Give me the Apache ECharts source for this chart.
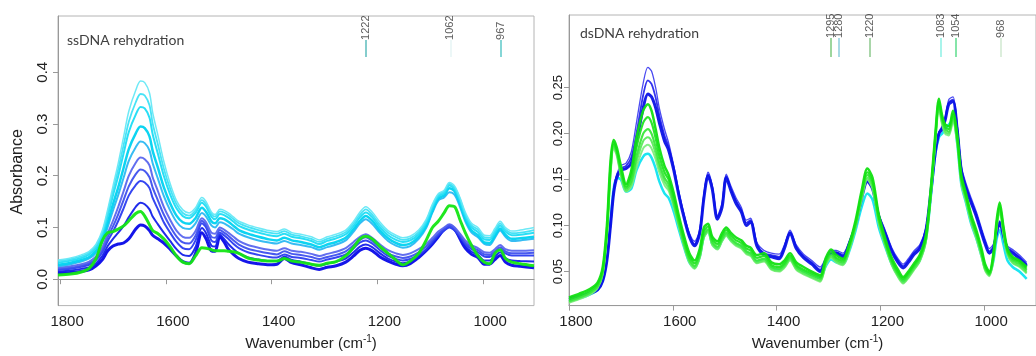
<!DOCTYPE html>
<html><head><meta charset="utf-8">
<script src="https://cdn.jsdelivr.net/npm/echarts@6/dist/echarts.min.js"></script>
<style>html,body{margin:0;padding:0;background:#fff;}#c{width:1036px;height:356px;}</style>
</head><body><div id="c"></div>
<script>
// ---------- Left panel: ssDNA rehydration ----------
const L_WN = [1804,1780,1760,1745,1732,1720,1710,1700,1690,1680,1670,1657,1648,1640,1631,1625,1615,1604,1592,1580,1568,1556,1544,1532,1524,1514,1507,1498,1490,1482,1472,1462,1445,1425,1405,1390,1376,1362,1345,1325,1310,1295,1278,1260,1245,1233,1222,1210,1195,1180,1165,1152,1138,1122,1108,1096,1085,1074,1064,1054,1044,1034,1022,1010,998,988,978,968,958,946,930,904];
const L_CYAN1 = [.037,.041,.047,.054,.068,.095,.135,.18,.225,.275,.325,.365,.383,.38,.36,.322,.278,.228,.185,.152,.134,.128,.138,.158,.15,.13,.125,.135,.133,.128,.12,.112,.105,.099,.094,.092,.097,.09,.087,.082,.076,.082,.087,.095,.112,.13,.14,.13,.11,.094,.085,.08,.083,.095,.115,.145,.165,.172,.187,.18,.158,.13,.108,.1,.085,.084,.098,.112,.1,.093,.095,.1];
const L_CYAN15 = [.035,.039,.044,.051,.065,.091,.129,.171,.213,.259,.305,.342,.358,.355,.336,.301,.26,.214,.175,.145,.128,.123,.133,.153,.145,.126,.121,.131,.129,.124,.116,.108,.101,.095,.09,.088,.093,.086,.083,.078,.072,.078,.083,.091,.108,.125,.135,.125,.105,.09,.081,.076,.079,.091,.112,.142,.163,.169,.184,.177,.155,.126,.104,.096,.081,.08,.094,.108,.096,.089,.09,.095];
const L_CYAN2 = [.032,.036,.041,.048,.061,.086,.122,.162,.2,.243,.285,.318,.333,.33,.312,.28,.242,.2,.164,.137,.122,.118,.128,.148,.14,.121,.116,.126,.124,.119,.111,.103,.096,.09,.085,.083,.088,.082,.079,.074,.068,.074,.079,.087,.103,.12,.129,.12,.1,.085,.076,.072,.075,.087,.108,.138,.16,.166,.181,.174,.151,.122,.1,.091,.077,.076,.09,.104,.092,.085,.086,.09];
const L_CYAN3 = [.028,.032,.037,.043,.055,.078,.11,.145,.178,.215,.252,.282,.295,.292,.276,.248,.215,.178,.147,.123,.11,.107,.118,.138,.13,.112,.108,.118,.116,.111,.103,.095,.088,.082,.077,.075,.08,.075,.072,.067,.062,.067,.072,.08,.097,.113,.122,.113,.094,.079,.07,.066,.069,.082,.103,.133,.156,.162,.176,.17,.146,.117,.094,.085,.071,.07,.084,.098,.086,.078,.079,.082];
const L_AZURE = [.025,.029,.034,.04,.051,.072,.101,.133,.163,.196,.229,.255,.266,.263,.249,.224,.194,.161,.133,.111,.099,.097,.108,.128,.121,.104,.1,.11,.108,.103,.096,.088,.081,.075,.071,.069,.074,.069,.066,.062,.057,.062,.067,.075,.092,.108,.116,.107,.089,.074,.065,.061,.064,.078,.099,.129,.152,.158,.168,.163,.14,.112,.09,.081,.068,.066,.08,.094,.082,.074,.075,.078];
const L_VIOLET = [.022,.025,.029,.034,.044,.062,.088,.113,.14,.17,.2,.225,.235,.232,.22,.197,.17,.14,.115,.094,.082,.08,.093,.118,.11,.09,.088,.1,.096,.09,.082,.074,.066,.061,.057,.055,.06,.055,.053,.049,.045,.049,.053,.06,.072,.082,.087,.08,.067,.056,.05,.047,.05,.058,.068,.08,.092,.1,.106,.1,.088,.075,.066,.06,.052,.051,.058,.066,.058,.055,.055,.056];
const L_BLUE15 = [.02,.022,.026,.031,.04,.057,.081,.102,.126,.153,.18,.203,.212,.209,.197,.177,.152,.125,.102,.083,.071,.069,.084,.113,.105,.082,.08,.095,.09,.084,.075,.067,.059,.054,.05,.048,.054,.049,.047,.043,.039,.043,.047,.054,.066,.076,.081,.074,.061,.05,.044,.041,.044,.052,.063,.076,.088,.097,.103,.097,.085,.071,.062,.056,.048,.047,.054,.062,.054,.05,.05,.051];
const L_BLUE1 = [.018,.02,.024,.028,.037,.052,.074,.092,.113,.137,.162,.182,.19,.187,.176,.157,.135,.11,.09,.072,.06,.058,.075,.108,.1,.075,.072,.09,.085,.078,.068,.06,.052,.047,.043,.042,.048,.043,.041,.037,.034,.038,.042,.048,.06,.071,.075,.069,.056,.045,.039,.036,.039,.047,.058,.072,.085,.094,.1,.094,.082,.068,.058,.052,.044,.043,.05,.058,.05,.046,.046,.046];
const L_BLUE17 = [.015,.017,.02,.023,.031,.045,.064,.078,.09,.103,.12,.14,.148,.145,.135,.121,.106,.09,.074,.058,.047,.045,.062,.099,.089,.065,.063,.086,.078,.068,.058,.05,.042,.038,.035,.035,.044,.037,.034,.029,.026,.03,.034,.04,.052,.063,.067,.062,.05,.04,.034,.031,.034,.044,.056,.07,.083,.095,.102,.095,.08,.064,.053,.047,.036,.036,.044,.052,.041,.036,.035,.034];
const L_BLUE2 = [.012,.013,.015,.018,.026,.038,.055,.064,.068,.07,.078,.097,.105,.103,.094,.085,.078,.07,.058,.045,.034,.031,.05,.09,.078,.055,.054,.082,.072,.058,.048,.04,.033,.03,.028,.029,.04,.032,.028,.022,.019,.023,.026,.033,.045,.056,.06,.055,.043,.035,.029,.026,.03,.042,.055,.068,.082,.096,.104,.097,.078,.06,.048,.042,.029,.029,.038,.046,.033,.027,.025,.022];
const L_GREEN = [.008,.01,.014,.021,.04,.075,.09,.092,.097,.103,.113,.127,.131,.122,.105,.094,.088,.078,.063,.045,.033,.03,.045,.061,.06,.057,.055,.055,.055,.054,.053,.05,.041,.037,.035,.035,.04,.035,.033,.029,.027,.031,.034,.045,.062,.078,.083,.078,.063,.05,.037,.028,.035,.05,.075,.1,.112,.128,.142,.14,.115,.09,.065,.045,.033,.03,.05,.057,.04,.033,.03,.026];
const L_PEAKS = [1222, 1062, 967];
const L_PEAK_COLORS = ['#5cbcbc', '#e6f4f4', '#5cc8c8'];
const L_TICKS_X = [1800, 1600, 1400, 1200, 1000];
const L_TICKS_Y = [0.0, 0.1, 0.2, 0.3, 0.4];

// ---------- Right panel: dsDNA rehydration ----------
const R_WN = [1800,1780,1760,1745,1735,1727,1720,1714,1708,1700,1690,1680,1670,1657,1648,1641,1633,1626,1616,1608,1598,1588,1578,1568,1558,1548,1540,1532,1524,1514,1505,1497,1488,1478,1468,1458,1450,1438,1424,1410,1395,1385,1374,1362,1348,1332,1316,1305,1295,1285,1272,1260,1248,1236,1225,1215,1203,1190,1178,1166,1156,1146,1136,1124,1112,1102,1094,1087,1081,1075,1068,1060,1052,1044,1035,1025,1015,1005,998,990,982,976,970,963,955,945,932,918];
const R_BLUE_TOP = [.022,.024,.028,.032,.042,.064,.102,.138,.156,.165,.168,.18,.212,.255,.272,.268,.25,.228,.205,.19,.165,.136,.112,.092,.083,.096,.134,.158,.144,.111,.125,.156,.143,.13,.12,.106,.108,.082,.073,.07,.069,.079,.095,.079,.069,.062,.055,.065,.073,.073,.07,.083,.103,.132,.15,.142,.113,.094,.076,.064,.058,.064,.072,.079,.098,.142,.182,.202,.208,.218,.237,.24,.21,.165,.146,.13,.115,.097,.085,.075,.08,.096,.105,.094,.078,.074,.068,.06];
const R_BLUE_MID = [.021,.023,.027,.031,.041,.063,.101,.136,.154,.162,.165,.174,.2,.242,.258,.254,.239,.22,.198,.186,.162,.134,.11,.09,.08,.094,.132,.156,.142,.109,.122,.154,.14,.127,.117,.103,.106,.08,.07,.068,.066,.077,.093,.077,.067,.06,.052,.063,.071,.071,.068,.081,.101,.131,.149,.141,.111,.092,.074,.062,.056,.062,.07,.077,.096,.141,.181,.201,.206,.216,.234,.237,.207,.162,.143,.127,.112,.094,.082,.072,.077,.094,.104,.092,.076,.072,.066,.058];
const R_BLUE = [.02,.022,.026,.03,.04,.062,.1,.135,.152,.16,.162,.168,.19,.228,.243,.24,.228,.212,.192,.182,.16,.132,.108,.088,.078,.092,.13,.154,.14,.107,.12,.152,.138,.124,.115,.1,.104,.078,.068,.066,.064,.075,.092,.075,.065,.058,.05,.062,.07,.07,.066,.08,.1,.13,.148,.14,.11,.09,.072,.06,.054,.06,.068,.075,.095,.14,.18,.2,.205,.215,.232,.235,.205,.16,.14,.125,.11,.092,.08,.07,.075,.092,.103,.09,.074,.07,.064,.056];
const R_CYAN = [.018,.021,.025,.03,.04,.065,.105,.14,.152,.15,.137,.14,.16,.175,.178,.174,.162,.148,.135,.13,.115,.095,.076,.06,.054,.066,.088,.094,.08,.075,.084,.09,.084,.08,.077,.071,.069,.061,.063,.054,.052,.056,.064,.055,.05,.046,.043,.056,.063,.06,.058,.072,.094,.12,.135,.128,.098,.076,.058,.046,.04,.045,.053,.062,.085,.135,.178,.196,.2,.205,.21,.215,.19,.145,.125,.102,.086,.067,.054,.048,.062,.085,.095,.08,.062,.055,.05,.042];
const R_GREEN_LOW = [.016,.02,.025,.032,.047,.088,.155,.184,.176,.154,.137,.142,.163,.184,.188,.184,.172,.158,.144,.138,.12,.098,.077,.06,.053,.065,.087,.093,.079,.074,.083,.089,.083,.078,.075,.069,.067,.059,.061,.052,.05,.054,.062,.052,.047,.043,.039,.057,.065,.06,.057,.073,.097,.128,.15,.14,.102,.077,.057,.044,.037,.043,.051,.061,.083,.137,.19,.226,.21,.2,.198,.213,.19,.146,.126,.103,.086,.066,.051,.045,.063,.096,.115,.092,.068,.059,.055,.048];
const R_GREEN_LM = [.017,.021,.026,.033,.048,.09,.157,.186,.178,.156,.138,.145,.169,.192,.196,.192,.178,.163,.148,.141,.122,.1,.078,.061,.054,.066,.088,.094,.08,.075,.084,.09,.084,.079,.076,.07,.068,.06,.062,.053,.051,.055,.063,.053,.048,.044,.04,.058,.066,.061,.058,.074,.098,.13,.152,.142,.104,.078,.058,.045,.038,.044,.052,.062,.084,.138,.192,.229,.212,.202,.2,.215,.192,.148,.128,.105,.088,.068,.052,.046,.064,.098,.117,.094,.07,.06,.056,.049];
const R_GREEN_MID = [.018,.022,.027,.034,.05,.092,.16,.188,.18,.158,.14,.148,.175,.2,.205,.2,.185,.168,.152,.145,.125,.102,.08,.063,.056,.068,.09,.096,.082,.077,.086,.092,.086,.081,.078,.072,.07,.062,.064,.055,.053,.057,.065,.055,.05,.046,.042,.06,.068,.063,.06,.076,.1,.132,.155,.145,.106,.08,.06,.047,.04,.046,.054,.064,.086,.14,.195,.232,.215,.205,.202,.218,.194,.15,.13,.107,.09,.07,.054,.047,.066,.1,.12,.096,.071,.062,.058,.051];
const R_GREEN_UM = [.02,.024,.029,.036,.052,.096,.165,.19,.182,.161,.142,.154,.185,.212,.218,.212,.195,.176,.158,.15,.13,.106,.084,.066,.059,.071,.094,.099,.085,.08,.089,.095,.089,.084,.081,.075,.073,.065,.067,.057,.055,.059,.067,.057,.052,.048,.044,.062,.071,.065,.062,.078,.102,.135,.158,.148,.109,.082,.062,.049,.042,.048,.056,.066,.088,.142,.197,.235,.217,.207,.205,.221,.197,.152,.132,.109,.092,.072,.056,.048,.068,.102,.122,.098,.073,.064,.06,.053];
const R_GREEN_TOP = [.022,.026,.031,.038,.055,.1,.17,.193,.185,.165,.145,.16,.195,.225,.232,.225,.205,.185,.165,.155,.135,.11,.088,.07,.062,.075,.098,.102,.088,.083,.092,.098,.092,.087,.084,.078,.076,.068,.07,.06,.058,.062,.07,.06,.055,.05,.046,.065,.074,.068,.064,.08,.105,.138,.162,.152,.112,.085,.065,.052,.044,.05,.058,.068,.09,.145,.2,.238,.22,.21,.208,.225,.2,.155,.135,.112,.095,.075,.058,.05,.07,.105,.125,.1,.075,.066,.062,.055];
const R_PEAKS = [1295, 1280, 1220, 1083, 1054, 968];
const R_PEAK_COLORS = ['#7cc87c', '#8cccdc', '#8cc88c', '#8cf0e4', '#5cdc8c', '#d0e8d0'];
const R_TICKS_X = [1800, 1600, 1400, 1200, 1000];
const R_TICKS_Y = [0.05, 0.10, 0.15, 0.20, 0.25];

// ---------- layout constants (not data) ----------
const L_MARK = {labelBase: 0.4624, top: 0.4624, bottom: 0.4295};
const R_MARK = {labelBase: 0.304, top: 0.304, bottom: 0.2834};

const pairs = (xs, ys) => xs.map((x, i) => [x, ys[i]]);

function spectrum(name, xs, ys, color, width, gi) {
  return {
    type: 'line', name, xAxisIndex: gi, yAxisIndex: gi,
    data: pairs(xs, ys), showSymbol: false, smooth: 0.3,
    lineStyle: {color, width, opacity: 0.95}, silent: true
  };
}
function peakSeries(peaks, colors, mark, gi) {
  return [{
    type: 'line', xAxisIndex: gi, yAxisIndex: gi, data: [], silent: true,
    markLine: {
      silent: true, symbol: 'none', label: {show: false}, animation: false,
      data: peaks.map((p, i) => [
        {coord: [p, mark.top], lineStyle: {color: colors[i], width: 1.5, type: 'solid'}},
        {coord: [p, mark.bottom]}
      ])
    }
  }, {
    type: 'scatter', xAxisIndex: gi, yAxisIndex: gi, symbolSize: 0, silent: true,
    data: peaks.map(p => [p, mark.labelBase]),
    label: {
      show: true, formatter: d => String(d.value[0]), rotate: 90, position: [0, 0],
      align: 'left', verticalAlign: 'middle', distance: 0,
      fontFamily: 'Liberation Sans, Arial', fontSize: 11, color: '#333'
    }
  }];
}

const axisFont = {fontFamily: 'Liberation Sans, Arial', color: '#222'};
function xAxis(gi, min, max, ticks) {
  return {
    type: 'value', gridIndex: gi, min, max, inverse: true,
    name: 'Wavenumber (cm{sup|-1})', nameLocation: 'middle', nameGap: 26,
    nameTextStyle: {fontFamily: 'Liberation Sans, Arial', fontSize: 15, color: '#222', padding: [0, 0, 0, 30],
      rich: {sup: {fontSize: 10, verticalAlign: 'top', padding: [0, 0, 8, 0], fontFamily: 'Liberation Sans, Arial', color: '#222'}}},
    axisLine: {show: true, lineStyle: {color: '#999'}},
    axisTick: {show: true, inside: false, length: 5, lineStyle: {color: '#999'}, customValues: ticks},
    axisLabel: Object.assign({fontSize: 15, margin: 9, padding: [0, 0, 0, 14], customValues: ticks, formatter: v => String(v)}, axisFont),
    splitLine: {show: false}
  };
}
function yAxis(gi, min, max, ticks, dec, fs, margin, named) {
  const a = {
    type: 'value', gridIndex: gi, min, max,
    axisLine: {show: true, lineStyle: {color: '#999'}},
    axisTick: {show: true, length: 5, lineStyle: {color: '#999'}, customValues: ticks},
    axisLabel: Object.assign({fontSize: fs, rotate: 90, margin, customValues: ticks, formatter: v => v.toFixed(dec)}, axisFont),
    splitLine: {show: false}
  };
  if (named) {
    a.name = 'Absorbance'; a.nameLocation = 'middle'; a.nameGap = 32; a.nameRotate = 90;
    a.nameTextStyle = {fontFamily: 'Liberation Sans, Arial', fontSize: 16, color: '#222', padding: [0, 22, 0, 0]};
  }
  return a;
}

const chart = echarts.init(document.getElementById('c'), null, {renderer: 'canvas'});
chart.setOption({
  animation: false,
  backgroundColor: '#fff',
  grid: [
    {left: 58, top: 16, width: 476, height: 290, show: true, borderColor: '#b4b4b4', borderWidth: 1, containLabel: false},
    {left: 569, top: 15, width: 477, height: 291, show: true, borderColor: '#b4b4b4', borderWidth: 1, containLabel: false}
  ],
  title: [
    {text: 'ssDNA rehydration', left: 62, top: 28, textStyle: {fontFamily: 'Lato', fontWeight: 'normal', fontSize: 14, color: '#404040'}},
    {text: 'dsDNA rehydration', left: 575, top: 21, textStyle: {fontFamily: 'Lato', fontWeight: 'normal', fontSize: 14, color: '#404040'}}
  ],
  xAxis: [xAxis(0, 904, 1804, L_TICKS_X), xAxis(1, 900, 1800, R_TICKS_X)],
  yAxis: [yAxis(0, -0.051, 0.5087, L_TICKS_Y, 1, 15, 8, true), yAxis(1, 0.013, 0.329, R_TICKS_Y, 2, 13, 4, false)],
  series: [
    spectrum('ss blue dark', L_WN, L_BLUE2, '#0808e8', 3, 0),
    spectrum('ss blue 17', L_WN, L_BLUE17, '#1420ea', 2, 0),
    spectrum('ss blue', L_WN, L_BLUE1, '#2a3cf0', 2, 0),
    spectrum('ss blue 15', L_WN, L_BLUE15, '#3e50ee', 2, 0),
    spectrum('ss violet', L_WN, L_VIOLET, '#5a66ee', 2, 0),
    spectrum('ss azure', L_WN, L_AZURE, '#2cb8f2', 2, 0),
    spectrum('ss cyan 3', L_WN, L_CYAN3, '#00d2f0', 2.5, 0),
    spectrum('ss cyan 2', L_WN, L_CYAN2, '#1edcf4', 2, 0),
    spectrum('ss cyan 15', L_WN, L_CYAN15, '#3ee2f5', 1.8, 0),
    spectrum('ss cyan 1', L_WN, L_CYAN1, '#66e8f6', 1.5, 0),
    spectrum('ss green', L_WN, L_GREEN, '#14e614', 3, 0),
    ...peakSeries(L_PEAKS, L_PEAK_COLORS, L_MARK, 0),
    spectrum('ds cyan', R_WN, R_CYAN, '#10e4f0', 2.5, 1),
    spectrum('ds blue top', R_WN, R_BLUE_TOP, '#4040f0', 1.3, 1),
    spectrum('ds blue mid', R_WN, R_BLUE_MID, '#2828ee', 1.8, 1),
    spectrum('ds blue', R_WN, R_BLUE, '#0a12e6', 3, 1),
    spectrum('ds green low', R_WN, R_GREEN_LOW, '#80ee80', 2, 1),
    spectrum('ds green lm', R_WN, R_GREEN_LM, '#5ceb5c', 2, 1),
    spectrum('ds green mid', R_WN, R_GREEN_MID, '#3ae83a', 2.2, 1),
    spectrum('ds green um', R_WN, R_GREEN_UM, '#22e422', 2.2, 1),
    spectrum('ds green top', R_WN, R_GREEN_TOP, '#12e012', 2.5, 1),
    ...peakSeries(R_PEAKS, R_PEAK_COLORS, R_MARK, 1)
  ]
});
</script></body></html>
